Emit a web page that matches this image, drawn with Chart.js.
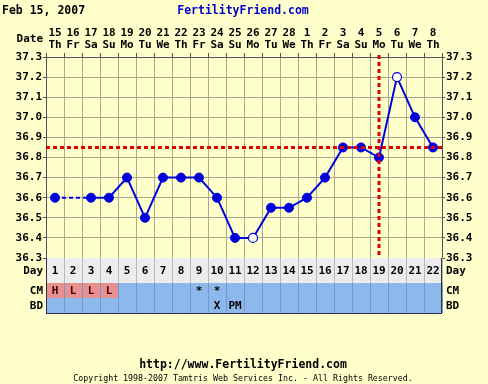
<!DOCTYPE html>
<html>
<head>
<meta charset="utf-8">
<script src="https://cdn.jsdelivr.net/npm/chart.js@4/dist/chart.umd.min.js"></script>
<style>
  html, body { margin: 0; padding: 0; background: #ffffcc; }
  canvas { display: block; }
</style>
</head>
<body>
<canvas id="bbt" width="488" height="384"></canvas>
<script>
// chart data
const cycleDays = ['1','2','3','4','5','6','7','8','9','10','11','12','13','14','15','16','17','18','19','20','21','22'];
const dates = ['15','16','17','18','19','20','21','22','23','24','25','26','27','28','1','2','3','4','5','6','7','8'];
const weekdays = ['Th','Fr','Sa','Su','Mo','Tu','We','Th','Fr','Sa','Su','Mo','Tu','We','Th','Fr','Sa','Su','Mo','Tu','We','Th'];
const temps = [36.6, null, 36.6, 36.6, 36.7, 36.5, 36.7, 36.7, 36.7, 36.6, 36.4, 36.4, 36.55, 36.55, 36.6, 36.7, 36.85, 36.85, 36.8, 37.2, 37.0, 36.85];
const openDays = [12, 20];            // discarded temps, drawn hollow
const yTicks = [36.3, 36.4, 36.5, 36.6, 36.7, 36.8, 36.9, 37.0, 37.1, 37.2, 37.3];
const coverline = 36.85;
const ovulationDay = 19;
const cmRow = ['H','L','L','L','','','','','*','*','','','','','','','','','','','',''];
const cmFlagged = [1, 2, 3, 4];       // pink cells
const bdRow = ['','','','','','','','','','X','PM','','','','','','','','','','',''];

const FONT = 'DejaVu Sans Mono';
const BG = '#ffffcc';
const GRID = '#a8a890';
const EDGE = '#505060';
const BLUE = '#0000dd';
const RED = '#dd0000';

Chart.defaults.font.family = FONT;
Chart.defaults.font.size = 11;
Chart.defaults.font.weight = 'bold';
Chart.defaults.color = '#000';

const isOpen = i => openDays.includes(i + 1);

// background + header/footer text + bottom table
const ffPlugin = {
  id: 'ff',
  beforeDraw(chart) {
    const { ctx, width, height } = chart;
    ctx.save();
    ctx.fillStyle = BG;
    ctx.fillRect(0, 0, width, height);
    ctx.restore();
  },
  afterDatasetsDraw(chart) {
    const { ctx, chartArea: a, scales: { x, y } } = chart;
    ctx.save();
    ctx.strokeStyle = RED;
    ctx.lineWidth = 3;
    ctx.setLineDash([4, 3]);
    const cy = Math.round(y.getPixelForValue(coverline)) + 0.5;
    ctx.beginPath();
    ctx.moveTo(a.left, cy);
    ctx.lineTo(a.right, cy);
    ctx.stroke();
    const ox = Math.round(x.getPixelForValue(ovulationDay - 1));
    ctx.beginPath();
    ctx.moveTo(ox, a.top - 2);
    ctx.lineTo(ox, a.bottom);
    ctx.stroke();
    ctx.restore();
  },
  afterDraw(chart) {
    const { ctx, chartArea: a, scales: { x } } = chart;
    const half = (x.getPixelForValue(1) - x.getPixelForValue(0)) / 2;
    ctx.save();

    // titles
    ctx.textBaseline = 'middle';
    ctx.font = `bold 11.5px "${FONT}"`;
    ctx.fillStyle = '#000';
    ctx.textAlign = 'left';
    ctx.fillText('Feb 15, 2007', 2, 11);
    ctx.fillStyle = '#0000cc';
    ctx.textAlign = 'center';
    ctx.fillText('FertilityFriend.com', 243, 11);
    ctx.fillStyle = '#000';
    ctx.font = `bold 11px "${FONT}"`;
    ctx.textAlign = 'right';
    ctx.fillText('Date', 43, 39);

    // table rows
    const rows = [
      { top: a.bottom, h: 25, label: 'Day', cells: cycleDays },
      { top: a.bottom + 25, h: 15, label: 'CM', cells: cmRow },
      { top: a.bottom + 40, h: 15, label: 'BD', cells: bdRow }
    ];
    rows.forEach((r, ri) => {
      // fills first, then dividers, then text
      cycleDays.forEach((d, i) => {
        const cx = x.getPixelForValue(i);
        let fill = ri === 0 ? '#ececec' : '#8cb8ec';
        if (ri === 1 && cmFlagged.includes(i + 1)) fill = '#e89090';
        ctx.fillStyle = fill;
        ctx.fillRect(cx - half, r.top, half * 2, r.h);
      });
      ctx.strokeStyle = ri === 0 ? '#b8b8b8' : '#6f9ad0';
      ctx.lineWidth = 1;
      ctx.beginPath();
      cycleDays.forEach((d, i) => {
        const lx = Math.round(x.getPixelForValue(i) + half) + 0.5;
        ctx.moveTo(lx, r.top);
        ctx.lineTo(lx, r.top + r.h);
      });
      ctx.stroke();
      const ty = r.top + r.h / 2 + (ri === 0 ? 1 : 0.5);
      cycleDays.forEach((d, i) => {
        if (!r.cells[i]) return;
        ctx.fillStyle = ri === 1 && cmFlagged.includes(i + 1) ? '#400000' : '#000';
        ctx.textAlign = 'center';
        ctx.fillText(r.cells[i], x.getPixelForValue(i), ty);
      });
      ctx.fillStyle = '#000';
      ctx.textAlign = 'right';
      ctx.fillText(r.label, 43, ty);
      ctx.textAlign = 'left';
      ctx.fillText(r.label, 446, ty);
      ctx.strokeStyle = '#303048';
      ctx.beginPath();
      ctx.moveTo(a.left, r.top + r.h + 0.5);
      ctx.lineTo(a.right, r.top + r.h + 0.5);
      ctx.stroke();
    });
    const tb = a.bottom + 55;
    ctx.strokeStyle = '#303048';
    ctx.beginPath();
    ctx.moveTo(a.left + 0.5, a.bottom);
    ctx.lineTo(a.left + 0.5, tb + 0.5);
    ctx.moveTo(a.right - 0.5, a.bottom);
    ctx.lineTo(a.right - 0.5, tb + 0.5);
    ctx.stroke();

    // footer
    ctx.textAlign = 'center';
    ctx.fillStyle = '#000';
    ctx.font = `bold 11.5px "${FONT}"`;
    ctx.fillText('http://www.FertilityFriend.com', 243, 365);
    ctx.font = `8.3px "${FONT}"`;
    ctx.fillText('Copyright 1998-2007 Tamtris Web Services Inc. - All Rights Reserved.', 243, 379);
    ctx.restore();
  }
};

const yAxis = (pos) => ({
  type: 'linear',
  position: pos,
  min: 36.3,
  max: 37.3,
  afterBuildTicks: s => { s.ticks = yTicks.map(v => ({ value: v })); },
  afterFit: s => { s.width = 46; },
  ticks: { callback: v => v.toFixed(1), padding: 1, font: { size: 11, weight: 'bold' } },
  grid: { color: GRID, tickLength: 3, drawOnChartArea: pos === 'left', tickColor: EDGE },
  border: { color: EDGE }
});

new Chart(document.getElementById('bbt'), {
  type: 'line',
  data: {
    labels: cycleDays,
    datasets: [{
      data: temps,
      xAxisID: 'x',
      yAxisID: 'y',
      borderColor: BLUE,
      borderWidth: 2,
      tension: 0,
      spanGaps: true,
      segment: {
        borderDash: c => (c.p0.skip || c.p1.skip) ? [4, 3] : undefined
      },
      pointRadius: 4.5,
      pointBackgroundColor: c => isOpen(c.dataIndex) ? '#ffffff' : BLUE,
      pointBorderColor: BLUE,
      pointBorderWidth: c => isOpen(c.dataIndex) ? 1.2 : 1
    }, {
      // empty dataset bound to the top axis so it shows the dates
      data: [],
      xAxisID: 'xTop',
      yAxisID: 'y'
    }]
  },
  plugins: [ffPlugin],
  options: {
    responsive: false,
    animation: false,
    layout: { padding: 0 },
    plugins: { legend: { display: false }, tooltip: { enabled: false } },
    scales: {
      x: {
        type: 'category',
        position: 'bottom',
        offset: true,
        afterFit: s => { s.height = 126; },
        ticks: { display: false },
        grid: { offset: true, color: GRID, drawTicks: false },
        border: { color: EDGE }
      },
      xTop: {
        type: 'category',
        position: 'top',
        offset: true,
        labels: dates.map((d, i) => [d, weekdays[i]]),
        afterFit: s => { s.height = 57; },
        ticks: { padding: 2, maxRotation: 0, autoSkip: false, font: { size: 11, weight: 'bold', lineHeight: 1.1 } },
        grid: { offset: true, drawOnChartArea: false, tickLength: 4, color: EDGE },
        border: { color: EDGE }
      },
      y: yAxis('left'),
      yRight: yAxis('right')
    }
  }
});
</script>
</body>
</html>
